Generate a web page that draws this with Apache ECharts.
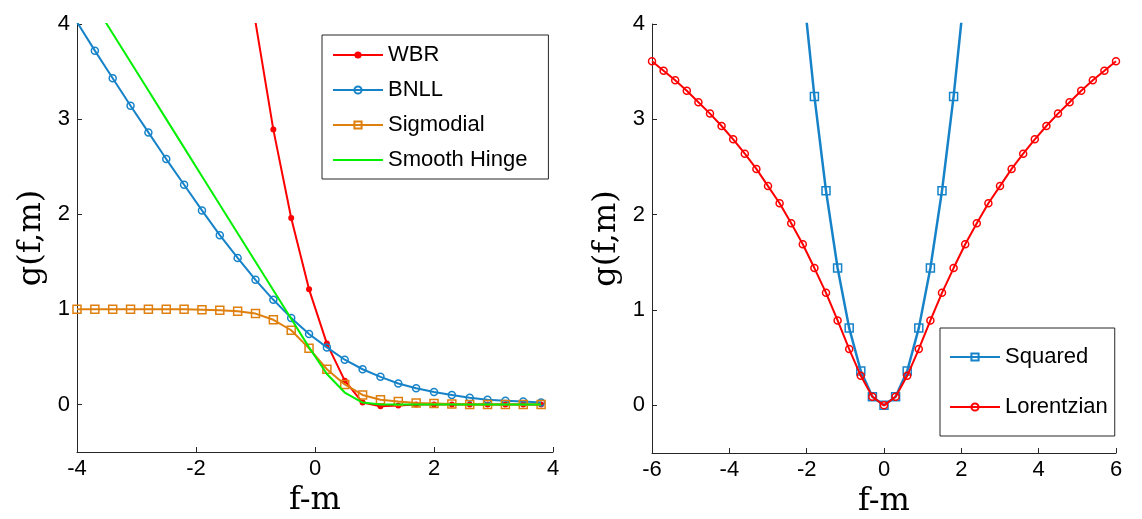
<!DOCTYPE html>
<html>
<head>
<meta charset="utf-8">
<script src="https://cdn.jsdelivr.net/npm/echarts@6/dist/echarts.min.js"></script>
<style>
  html, body { margin: 0; padding: 0; background: #fff; }
  #main { width: 1142px; height: 519px; }
</style>
</head>
<body>
<div id="main"></div>
<script>
// left panel: f-m grid and the four losses
var xsLeft = [-4, -3.7, -3.4, -3.1, -2.8, -2.5, -2.2, -1.9, -1.6, -1.3, -1, -0.7, -0.4, -0.1,
  0.2, 0.5, 0.8, 1.1, 1.4, 1.7, 2, 2.3, 2.6, 2.9, 3.2, 3.5, 3.8];
var wbr = [null, null, null, null, null, null, null, null, 6.76, 5.29, 4.02, 2.89, 1.96, 1.21,
  0.64, 0.25, 0.02, -0.02, -0.01, 0, 0, 0, 0, 0, 0, 0, 0];
var bnll = [4.02, 3.72, 3.43, 3.14, 2.86, 2.58, 2.31, 2.04, 1.78, 1.54, 1.31, 1.10, 0.91, 0.74,
  0.60, 0.47, 0.37, 0.29, 0.22, 0.17, 0.13, 0.10, 0.07, 0.05, 0.04, 0.03, 0.02];
var sigmodial = [1, 1, 1, 1, 1, 1, 1, 0.995, 0.99, 0.98, 0.955, 0.89, 0.78, 0.59,
  0.37, 0.21, 0.10, 0.05, 0.03, 0.015, 0.01, 0.005, 0, 0, 0, 0, 0];
var smoothHinge = [4.5, 4.2, 3.9, 3.6, 3.3, 3.0, 2.7, 2.4, 2.1, 1.8, 1.5, 1.2, 0.9, 0.6,
  0.32, 0.125, 0.02, 0, 0, 0, 0, 0, 0, 0, 0, 0, 0];

// right panel
var xsRight = [-6, -5.7, -5.4, -5.1, -4.8, -4.5, -4.2, -3.9, -3.6, -3.3, -3, -2.7, -2.4, -2.1,
  -1.8, -1.5, -1.2, -0.9, -0.6, -0.3, 0, 0.3, 0.6, 0.9, 1.2, 1.5, 1.8, 2.1, 2.4, 2.7, 3,
  3.3, 3.6, 3.9, 4.2, 4.5, 4.8, 5.1, 5.4, 5.7, 6];
var squared = [null, null, null, null, null, null, null, null, null, null, null, null, 5.76, 4.41,
  3.24, 2.25, 1.44, 0.81, 0.36, 0.09, 0, 0.09, 0.36, 0.81, 1.44, 2.25, 3.24, 4.41, 5.76,
  null, null, null, null, null, null, null, null, null, null, null, null];
var lorentzian = [3.61, 3.51, 3.41, 3.30, 3.18, 3.06, 2.93, 2.79, 2.64, 2.48, 2.30, 2.12, 1.91, 1.69,
  1.44, 1.18, 0.89, 0.59, 0.31, 0.09, 0, 0.09, 0.31, 0.59, 0.89, 1.18, 1.44, 1.69, 1.91,
  2.12, 2.30, 2.48, 2.64, 2.79, 2.93, 3.06, 3.18, 3.30, 3.41, 3.51, 3.61];

var yTicks = [0, 1, 2, 3, 4];

var BLUE = '#1683c9';
var ORANGE = '#df7f0e';
var RED = '#ff0000';
var GREEN = '#00f000';
var AXIS = '#262626';

function pairs(xs, ys) {
  return xs.map(function (x, i) { return [x, ys[i]]; });
}

function xAxisOf(gridIndex, min, max) {
  return {
    gridIndex: gridIndex, type: 'value', min: min, max: max, interval: 2,
    name: 'f-m', nameLocation: 'middle', nameGap: 32,
    nameTextStyle: { fontFamily: 'DejaVu Serif', fontSize: 32, color: '#000' },
    axisLine: { onZero: false, lineStyle: { color: AXIS, width: 1 } },
    axisTick: { inside: true, length: 5, lineStyle: { color: AXIS } },
    axisLabel: { fontFamily: 'Liberation Sans', fontSize: 22, color: '#000', margin: 6 },
    splitLine: { show: false }
  };
}

function yAxisOf(gridIndex) {
  return {
    gridIndex: gridIndex, type: 'value', min: -0.5, max: 4,
    name: 'g(f,m)', nameLocation: 'middle', nameGap: 29, nameRotate: 90,
    nameTextStyle: { fontFamily: 'DejaVu Serif', fontSize: 32, color: '#000' },
    axisLine: { show: true, onZero: false, lineStyle: { color: AXIS, width: 1 } },
    axisTick: { show: true, inside: true, length: 5, customValues: yTicks, lineStyle: { color: AXIS } },
    axisLabel: { fontFamily: 'Liberation Sans', fontSize: 22, color: '#000', margin: 7, customValues: yTicks },
    splitLine: { show: false }
  };
}

var legendBase = {
  orient: 'vertical',
  backgroundColor: '#fff',
  borderColor: AXIS,
  borderWidth: 1,
  itemWidth: 50,
  itemHeight: 9,
  itemGap: 13,
  inactiveColor: '#000',
  selectedMode: false,
  textStyle: { fontFamily: 'Liberation Sans', fontSize: 22, color: '#000', lineHeight: 22 }
};

var chart = echarts.init(document.getElementById('main'));

var option = {
  animation: false,
  backgroundColor: '#fff',
  grid: [
    { left: 77, top: 24, width: 476, height: 428, outerBoundsMode: 'none', containLabel: false },
    { left: 652, top: 24, width: 464, height: 429, outerBoundsMode: 'none', containLabel: false }
  ],
  xAxis: [xAxisOf(0, -4, 4), xAxisOf(1, -6, 6)],
  yAxis: [yAxisOf(0), yAxisOf(1)],
  legend: [
    Object.assign({}, legendBase, {
      left: 322, top: 35, padding: [9, 21, 8, 10],
      data: ['WBR', 'BNLL', 'Sigmodial',
        { name: 'Smooth Hinge', itemStyle: { opacity: 0 } }]
    }),
    Object.assign({}, legendBase, {
      left: 940, top: 328, padding: [18, 7, 18, 9], itemGap: 28,
      data: ['Squared', 'Lorentzian']
    })
  ],
  series: [
    {
      name: 'WBR', type: 'line', xAxisIndex: 0, yAxisIndex: 0,
      data: pairs(xsLeft, wbr), symbol: 'circle', symbolSize: 6,
      lineStyle: { color: RED, width: 2 }, itemStyle: { color: RED }, z: 2
    },
    {
      name: 'BNLL', type: 'line', xAxisIndex: 0, yAxisIndex: 0,
      data: pairs(xsLeft, bnll), symbol: 'circle', symbolSize: 7,
      lineStyle: { color: BLUE, width: 2 },
      itemStyle: { color: 'rgba(255,255,255,0)', borderColor: BLUE, borderWidth: 1.5 }, z: 3
    },
    {
      name: 'Sigmodial', type: 'line', xAxisIndex: 0, yAxisIndex: 0,
      data: pairs(xsLeft, sigmodial), symbol: 'rect', symbolSize: 8,
      lineStyle: { color: ORANGE, width: 2 },
      itemStyle: { color: 'rgba(255,255,255,0)', borderColor: ORANGE, borderWidth: 1.5 }, z: 4
    },
    {
      name: 'Smooth Hinge', type: 'line', xAxisIndex: 0, yAxisIndex: 0,
      data: pairs(xsLeft, smoothHinge), symbol: 'none',
      lineStyle: { color: GREEN, width: 2 }, itemStyle: { color: GREEN }, z: 5
    },
    {
      name: 'Squared', type: 'line', xAxisIndex: 1, yAxisIndex: 1,
      data: pairs(xsRight, squared), symbol: 'rect', symbolSize: 8,
      lineStyle: { color: BLUE, width: 2.5 },
      itemStyle: { color: 'rgba(255,255,255,0)', borderColor: BLUE, borderWidth: 1.5 }, z: 2
    },
    {
      name: 'Lorentzian', type: 'line', xAxisIndex: 1, yAxisIndex: 1,
      data: pairs(xsRight, lorentzian), symbol: 'circle', symbolSize: 7,
      lineStyle: { color: RED, width: 2 },
      itemStyle: { color: 'rgba(255,255,255,0)', borderColor: RED, borderWidth: 1.5 }, z: 3
    }
  ]
};

chart.setOption(option);
</script>
</body>
</html>
